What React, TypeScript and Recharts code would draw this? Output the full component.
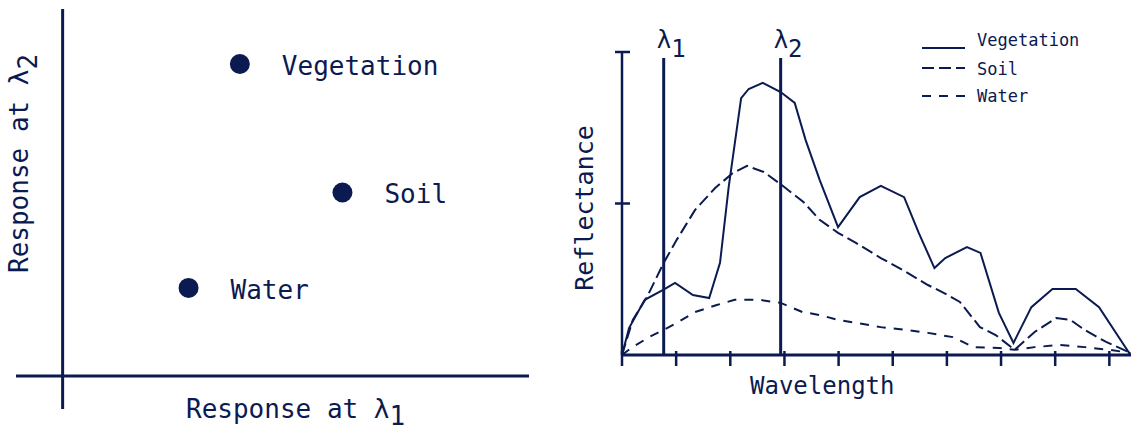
import React from 'react';
import {
  ScatterChart,
  Scatter,
  LineChart,
  Line,
  XAxis,
  YAxis,
  ReferenceLine,
  Legend,
} from 'recharts';

const NAVY = '#0b1a50';
const MONO = '"DejaVu Sans Mono", "Liberation Mono", monospace';

// ---- Left panel: responses at two wavelengths ----
const targetNames = ['Vegetation', 'Soil', 'Water'];
const responseAtLambda1 = [3.8, 6.0, 2.7];
const responseAtLambda2 = [8.5, 5.0, 2.4];

// ---- Right panel: spectral reflectance curves ----
const vegWavelength = [0, 0.13, 0.42, 0.76, 0.98, 1.31, 1.61, 1.81, 1.97, 2.2, 2.34, 2.6, 2.93, 3.19, 3.39, 3.65, 3.99, 4.39, 4.78, 5.21, 5.48, 5.77, 5.97, 6.37, 6.62, 6.96, 7.23, 7.56, 7.95, 8.38, 8.81, 9.39];
const vegReflectance = [0, 8.9, 18.2, 21.5, 23.8, 19.8, 18.8, 30.4, 55.4, 84.8, 87.8, 89.8, 86.8, 83.2, 71.0, 57.8, 42.2, 52.1, 55.8, 52.1, 40.3, 28.7, 32.0, 35.6, 33.7, 13.9, 4.0, 15.8, 21.8, 21.8, 15.8, 0];

const soilWavelength = [0, 0.2, 0.46, 0.77, 1.01, 1.35, 1.72, 2.05, 2.31, 2.62, 2.95, 3.35, 3.65, 3.99, 4.32, 4.78, 5.18, 5.65, 5.94, 6.24, 6.61, 6.9, 7.25, 7.62, 8.02, 8.28, 8.54, 8.94, 9.39];
const soilReflectance = [0, 11.6, 19.1, 30.4, 38.0, 47.9, 55.1, 60.1, 62.4, 60.4, 56.1, 50.5, 44.6, 40.3, 37.0, 32.0, 28.1, 23.1, 20.5, 17.5, 9.2, 6.6, 1.7, 7.6, 12.2, 11.6, 8.3, 4.3, 0.7];

const waterWavelength = [0, 0.17, 0.5, 0.77, 1.01, 1.35, 1.75, 2.08, 2.54, 2.93, 3.33, 3.65, 3.99, 4.32, 4.78, 5.24, 5.65, 6.11, 6.49, 6.96, 7.25, 7.62, 8.08, 8.54, 9.0, 9.39];
const waterReflectance = [0, 2.3, 5.9, 8.3, 10.6, 14.2, 16.5, 18.2, 18.2, 17.2, 14.2, 13.2, 11.6, 10.6, 9.2, 8.3, 7.3, 5.9, 2.6, 2.3, 1.7, 2.6, 3.3, 2.6, 1.7, 0.7];

const wavelengthTicks = [0, 1, 2, 3, 4, 5, 6, 7, 8, 9];
const reflectanceTicks = [50, 100];
const lambda1 = 0.77;
const lambda2 = 2.93;
const lambdaTop = 98;

const toPoints = (xs: number[], ys: number[]) => xs.map((x, i) => ({ x, y: ys[i] }));

const series = [
  { name: 'Vegetation', data: toPoints(vegWavelength, vegReflectance), dash: undefined as string | undefined },
  { name: 'Soil', data: toPoints(soilWavelength, soilReflectance), dash: '12 5' },
  { name: 'Water', data: toPoints(waterWavelength, waterReflectance), dash: '9 8' },
];

const scatterData = targetNames.map((name, i) => ({
  name,
  x: responseAtLambda1[i],
  y: responseAtLambda2[i],
}));

const TargetDot = (p: any) => (
  <g>
    <circle cx={p.cx} cy={p.cy} r={10} fill={NAVY} />
    <text x={p.cx + 42} y={p.cy + 11} fill={NAVY} fontFamily={MONO} fontSize={26}>
      {p.payload.name}
    </text>
  </g>
);

const LeftXLabel = (props: any) => {
  const vb = props.viewBox;
  return (
    <text x={vb.x + 170} y={vb.y + 9} fill={NAVY} fontFamily={MONO} fontSize={26}>
      Response at λ<tspan dy={7}>1</tspan>
    </text>
  );
};

const LeftYLabel = (props: any) => {
  const vb = props.viewBox;
  const x = vb.x + 28;
  const y = vb.y + 264;
  return (
    <text x={x} y={y} transform={`rotate(-90 ${x} ${y})`} fill={NAVY} fontFamily={MONO} fontSize={26}>
      Response at λ<tspan dy={9}>2</tspan>
    </text>
  );
};

const RightXLabel = (props: any) => {
  const vb = props.viewBox;
  return (
    <text x={vb.x + 128} y={vb.y + 39} fill={NAVY} fontFamily={MONO} fontSize={24}>
      Wavelength
    </text>
  );
};

const RightYLabel = (props: any) => {
  const vb = props.viewBox;
  const x = vb.x + 23;
  const y = vb.y + 156;
  return (
    <text x={x} y={y} transform={`rotate(-90 ${x} ${y})`} textAnchor="middle" fill={NAVY} fontFamily={MONO} fontSize={25}>
      Reflectance
    </text>
  );
};

const lambdaLabel = (sub: string) => (props: any) => {
  const vb = props.viewBox;
  return (
    <text x={vb.x - 7} y={vb.y - 10} fill={NAVY} fontFamily={MONO} fontSize={24}>
      λ<tspan dy={9}>{sub}</tspan>
    </text>
  );
};

const YTick = (p: any) => (
  <line x1={p.x} x2={p.x + 15} y1={p.y} y2={p.y} stroke={NAVY} strokeWidth={2.5} />
);

const XTick = (p: any) => (
  <line x1={p.x} x2={p.x} y1={p.y - 15} y2={p.y} stroke={NAVY} strokeWidth={2.5} />
);

const legendBaselines = [21, 50, 77];
const legendLineY = [23, 43, 71];

const renderLegend = () => (
  <svg width={180} height={85} style={{ display: 'block' }}>
    {series.map((s, i) => (
      <g key={s.name}>
        <line
          x1={0}
          x2={43}
          y1={legendLineY[i]}
          y2={legendLineY[i]}
          stroke={NAVY}
          strokeWidth={2}
          strokeDasharray={s.dash}
        />
        <text x={55} y={legendBaselines[i]} fill={NAVY} fontFamily={MONO} fontSize={17}>
          {s.name}
        </text>
      </g>
    ))}
  </svg>
);

export default function App() {
  return (
    <div style={{ position: 'absolute', left: 0, top: 0, width: 1131, height: 430, background: '#fff' }}>
      <div style={{ position: 'absolute', left: 0, top: 0 }}>
        <ScatterChart width={560} height={430} margin={{ top: 9, right: 31, left: 0, bottom: 0 }}>
          <XAxis
            type="number"
            dataKey="x"
            domain={[-1, 10]}
            height={21}
            axisLine={false}
            tickLine={false}
            tick={false}
            label={<LeftXLabel />}
          />
          <YAxis
            type="number"
            dataKey="y"
            domain={[-0.9, 10]}
            width={16}
            axisLine={false}
            tickLine={false}
            tick={false}
            label={<LeftYLabel />}
          />
          <ReferenceLine x={0} stroke={NAVY} strokeWidth={3} />
          <ReferenceLine y={0} stroke={NAVY} strokeWidth={3} />
          <Scatter data={scatterData} shape={TargetDot} isAnimationActive={false} />
        </ScatterChart>
      </div>
      <div style={{ position: 'absolute', left: 570, top: 0 }}>
        <LineChart width={561} height={430} margin={{ top: 52, right: 0, left: 0, bottom: 0 }}>
          <XAxis
            type="number"
            dataKey="x"
            domain={[0, 9.4]}
            ticks={wavelengthTicks}
            allowDataOverflow
            height={75}
            axisLine={{ stroke: NAVY, strokeWidth: 3 }}
            tickLine={false}
            tickSize={11}
            tickMargin={0}
            tick={XTick}
            label={<RightXLabel />}
          />
          <YAxis
            type="number"
            domain={[0, 100]}
            ticks={reflectanceTicks}
            width={52}
            axisLine={{ stroke: NAVY, strokeWidth: 2.5 }}
            tickLine={false}
            tickSize={7}
            tickMargin={0}
            tick={YTick}
            label={<RightYLabel />}
          />
          <ReferenceLine
            segment={[{ x: lambda1, y: lambdaTop }, { x: lambda1, y: 0 }]}
            stroke={NAVY}
            strokeWidth={3}
            label={lambdaLabel('1')}
          />
          <ReferenceLine
            segment={[{ x: lambda2, y: lambdaTop }, { x: lambda2, y: 0 }]}
            stroke={NAVY}
            strokeWidth={3}
            label={lambdaLabel('2')}
          />
          {series.map((s) => (
            <Line
              key={s.name}
              name={s.name}
              data={s.data}
              dataKey="y"
              type="linear"
              stroke={NAVY}
              strokeWidth={2}
              strokeDasharray={s.dash}
              dot={false}
              activeDot={false}
              isAnimationActive={false}
            />
          ))}
          <Legend
            layout="vertical"
            align="center"
            verticalAlign="middle"
            content={renderLegend}
            wrapperStyle={{ position: 'absolute', left: 352, top: 25, width: 180, height: 85 }}
          />
        </LineChart>
      </div>
    </div>
  );
}
